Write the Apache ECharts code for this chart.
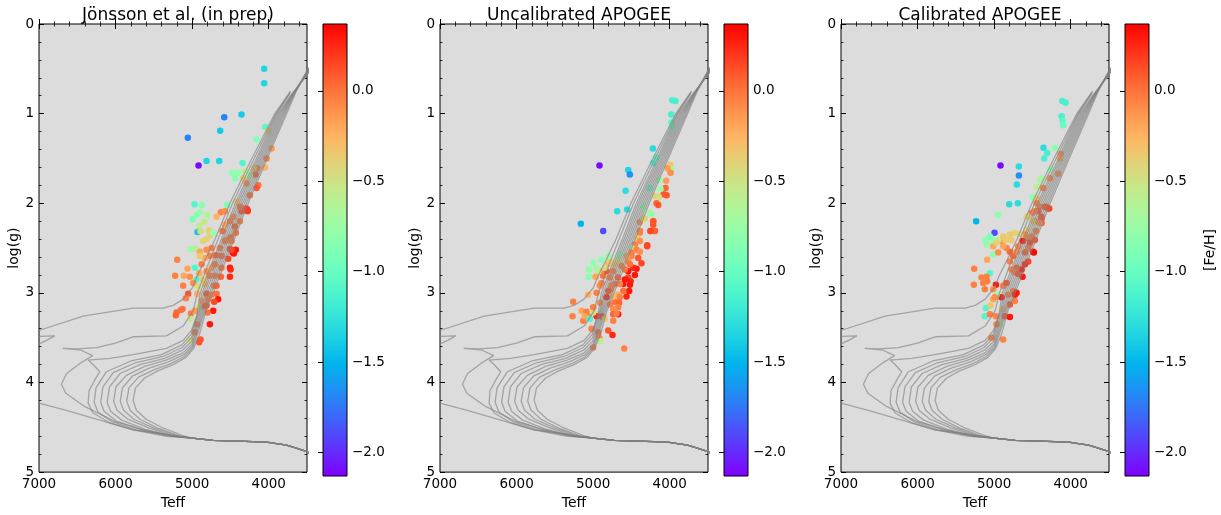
<!DOCTYPE html>
<html><head><meta charset="utf-8">
<script src="https://cdn.jsdelivr.net/npm/echarts@6/dist/echarts.min.js"></script>
<style>html,body{margin:0;padding:0;background:#fff}#c{width:1221px;height:515px}</style>
</head><body><div id="c"></div>
<script>
const panelTitles = ['Jönsson et al. (in prep)', 'Uncalibrated APOGEE', 'Calibrated APOGEE'];
const xMajorTicks = [4000, 5000, 6000, 7000];
const xMinorTicks = [3600, 3800, 4200, 4400, 4600, 4800, 5200, 5400, 5600, 5800, 6200, 6400, 6600, 6800];
const cbMajorTicks = [-2.0, -1.5, -1.0, -0.5, 0.0];
const cbMinorTicks = [-2.1, -1.9, -1.8, -1.7, -1.6, -1.4, -1.3, -1.2, -1.1, -0.9, -0.8, -0.7, -0.6, -0.4, -0.3, -0.2, -0.1, 0.1, 0.2, 0.3];
const fehMin = -2.13, fehMax = 0.37;

// [Teff, logg, [Fe/H]]
const jonssonStars = [
[4059,0.50,-1.35],[4059,0.66,-1.35],[4581,1.04,-1.70],[4355,1.01,-1.40],[4634,1.19,-1.40],[5056,1.27,-1.70],[4046,1.15,-1.05],[4159,1.29,-0.85],[4917,1.58,-2.10],[4812,1.53,-1.35],[4647,1.53,-1.35],[4342,1.55,-1.10],[4481,1.66,-0.80],[4398,1.66,-0.80],[4311,1.64,-0.60],[4438,1.72,-0.85],[4333,1.72,-0.35],[4542,2.02,-0.90],[4006,1.19,-0.35],[3963,1.39,-0.15],[4028,1.50,-0.05],[4150,1.61,-0.05],[4050,1.60,-0.25],[4172,1.68,0.05],[4137,1.80,0.00],[4159,1.83,0.10],[4246,1.69,-0.70],[4194,1.61,-0.35],[4289,1.78,-0.10],[4246,1.91,0.00],[4355,2.06,-0.05],[4281,2.07,0.10],[4276,2.09,0.15],[4420,1.98,-0.35],
[4969,2.01,-1.10],[4873,2.02,-0.85],[4943,2.13,-0.85],[4995,2.18,-0.90],[4899,2.10,-0.80],[4803,2.13,-0.65],[4908,2.25,-0.60],[4838,2.21,-0.55],[4930,2.32,-1.40],[4890,2.31,-0.45],[4781,2.30,-0.40],[4768,2.36,-0.40],[4856,2.42,-0.40],[4812,2.40,-0.40],[4725,2.33,-0.75],[4625,2.10,-0.05],[4681,2.15,-0.25],[5021,2.51,-0.75],[4951,2.51,-0.60],[4899,2.54,-0.20],[4812,2.52,-0.10],[4747,2.50,-0.05],[4638,2.50,-0.05],[4507,2.51,0.10],[4472,2.55,0.30],[4429,2.52,0.30],[4455,2.56,0.30],[4529,2.62,0.15],[4616,2.59,0.00],[4690,2.58,0.05],[4768,2.59,-0.05],[4834,2.61,-0.20],[4899,2.59,-0.35],[5195,2.63,-0.05],[5060,2.73,-0.20],[5222,2.81,-0.05],[5108,2.81,-0.20],[5030,2.82,-0.10],[4965,2.72,-1.10],[4943,2.85,-1.10],[5117,2.92,-0.05],[4986,2.89,-0.10],[4908,2.78,-0.20],[4877,2.68,-0.05],[4812,2.76,-0.10],[4747,2.72,-0.20],[4703,2.68,-0.05],[4616,2.72,0.00],[4507,2.72,0.30],[4498,2.74,0.25],[4625,2.82,0.05],[4507,2.82,0.25],[4703,2.81,-0.05],[4777,2.81,-0.05],[4856,2.85,-0.35],[4921,2.93,-0.45],[4834,2.90,-0.30],[4716,2.92,-0.05],[4681,2.92,0.05],[4812,3.01,0.10],[4747,3.02,-0.05],[4681,3.01,0.00],[5052,3.01,0.10],[5082,3.06,-0.05],[4934,3.01,-0.25],[4877,3.09,-0.20],[4908,3.16,-0.45],[4790,3.07,-0.05],[4660,3.07,0.30],[4712,3.10,0.15],[5204,3.22,0.05],[5213,3.25,0.05],[5148,3.19,0.00],[5126,3.18,0.00],[5017,3.23,-0.05],[4965,3.20,-0.15],[4812,3.14,0.10],[4834,3.15,0.05],[4725,3.20,0.30],[4799,3.22,0.00],[5021,3.29,-0.55],[4934,3.35,-0.05],[4768,3.35,0.30],[4965,3.44,-0.05],[5021,3.53,-0.45],[4908,3.55,0.10],[4890,3.52,0.10],[4551,2.41,-0.10],[4603,2.31,0.00],[4572,2.24,-0.20],[4507,2.20,-0.05],[4463,2.15,-0.10],[4429,2.33,0.00],[4498,2.38,0.00],[4485,2.42,-0.05],[4442,2.26,0.05],[4376,2.20,-0.05],[4355,2.09,0.10],[4289,2.06,0.15],[4276,2.08,0.20],[4376,2.04,0.00],[4572,2.09,-0.10],[4485,2.52,0.15],[4572,2.42,-0.05]
];
const uncalStars = [
[3967,0.85,-1.15],[3924,0.86,-1.15],[3980,1.01,-1.15],[3980,1.10,-1.05],[3967,1.15,-0.95],[4220,1.39,-1.30],[4176,1.49,-1.10],[4216,1.55,-1.15],[4917,1.58,-2.10],[4542,1.63,-1.35],[4521,1.68,-1.65],[4577,1.86,-1.30],[4686,2.09,-1.30],[4556,2.07,-1.30],[5161,2.23,-1.50],[4869,2.31,-1.90],[3993,1.57,-0.35],[3972,1.62,-0.70],[4028,1.61,-0.15],[3989,1.66,-0.10],[4046,1.75,-0.15],[4054,1.83,0.05],[4080,1.90,0.10],[4041,1.91,0.10],[4120,1.84,-0.75],[4194,1.92,-0.40],[4142,1.93,-0.45],[4172,2.00,0.05],[4150,2.02,0.10],[4137,1.74,-0.80],[4259,1.83,-1.00],[4346,2.04,-0.80],[4238,2.12,-0.80],[4325,2.17,-0.40],[4390,2.21,-0.10],[4216,2.20,0.05],[4216,2.24,0.10],[4194,2.31,0.15],[4251,2.31,0.15],[4294,2.48,0.15],[4390,2.33,-0.05],
[4259,2.11,-0.75],[4346,2.17,-0.40],[4215,2.20,0.10],[4206,2.31,0.05],[4250,2.31,0.15],[4389,2.31,-0.05],[4420,2.39,-0.35],[4389,2.42,-0.10],[4294,2.47,0.15],[4455,2.46,-0.05],[4498,2.50,-0.60],[4433,2.52,-0.05],[4389,2.54,-0.10],[4411,2.61,0.10],[4498,2.59,-0.05],[4542,2.65,-0.10],[4433,2.73,0.30],[4368,2.67,0.15],[4476,2.72,0.25],[4520,2.68,0.00],[4542,2.76,0.30],[4585,2.74,0.00],[4629,2.70,-0.05],[4542,2.83,0.15],[4511,2.87,0.25],[4455,2.80,0.30],[4585,2.85,0.30],[4607,2.90,0.30],[4520,2.91,0.30],[4673,2.83,0.05],[4651,2.90,-0.05],[4716,2.90,0.00],[4529,2.98,0.30],[4564,3.04,0.25],[4607,2.98,0.00],[4673,3.02,-0.20],[4651,3.05,-0.05],[4716,3.10,0.00],[4660,3.11,0.05],[4673,3.16,-0.05],[4738,3.04,-0.30],[4768,2.96,-0.05],[4803,2.98,0.10],[4825,3.05,0.25],[4738,3.18,-0.10],[4781,3.13,-0.05],[4673,3.24,0.30],[4738,3.24,0.05],[4695,3.23,-0.05],[4760,2.92,-0.05],[4912,2.92,-0.10],[4890,2.89,-0.05],[4869,2.81,0.00],[4912,2.76,-0.10],[4781,2.83,-0.05],[4825,2.76,0.10],[4738,2.76,-0.05],[4716,2.68,-0.35],[4803,2.68,-0.25],[4781,2.65,-0.35],[4673,2.63,-0.45],[4564,2.59,-0.20],[4498,2.55,-0.05],[4651,2.57,-0.85],[4847,2.72,-0.45],[4999,2.66,-0.80],[4890,2.63,-0.85],[5052,2.74,-0.80],[4956,2.72,-0.75],[4934,2.76,-0.60],[5056,2.82,-0.85],[4969,2.82,-0.20],[4803,2.59,-0.75],[5261,3.10,-0.05],[5269,3.26,-0.05],[5152,3.20,-0.20],[5087,3.21,-0.05],[5130,3.31,-0.05],[5065,3.26,-0.05],[5108,3.26,-0.20],[5065,3.02,-0.25],[5043,3.29,-1.10],[4956,3.26,0.25],[4890,3.26,0.20],[4999,3.22,-0.45],[4912,3.11,-0.10],[4956,3.00,-0.05],[5021,3.40,-0.05],[4934,3.44,0.00],[4921,3.50,-0.05],[4904,3.54,-0.60],[4999,3.61,-0.05],[4803,3.42,0.10],[4747,3.47,0.25],[4847,3.29,-0.35],[4738,3.31,-0.05],[4594,3.62,-0.05],[4999,3.16,-0.05]
];
const calStars = [
[4111,0.86,-1.15],[4067,0.88,-1.15],[4119,1.03,-1.15],[4106,1.08,-1.05],[4098,1.13,-1.00],[4355,1.38,-1.30],[4307,1.44,-1.15],[4346,1.50,-1.15],[4207,1.38,-0.85],[4917,1.58,-2.10],[4677,1.59,-1.30],[4677,1.69,-1.65],[4703,1.79,-1.30],[4803,2.01,-1.30],[4690,2.00,-1.30],[5235,2.20,-1.50],[4995,2.33,-1.90],[4947,2.13,-0.80],[4272,1.62,-0.75],[4381,1.72,-0.80],[4403,1.74,-0.65],[4433,1.82,-0.60],[4498,1.93,-0.80],[4437,1.95,-0.35],[4132,1.45,-0.10],[4141,1.50,-0.20],[4163,1.67,-0.10],[4272,1.72,-0.10],[4359,1.83,-0.05],[4294,2.06,0.15],[4316,2.04,0.00],[4403,2.04,-0.05],[4577,2.15,-0.40],[4511,2.11,-0.05],[4381,2.17,0.05],[4468,2.20,-0.05],[4490,2.54,0.35],[4381,2.22,0.10],[4425,2.09,0.10],
[4555,2.15,-0.40],[4468,2.09,-0.05],[4490,2.20,-0.35],[4402,2.22,-0.10],[4381,2.15,0.10],[4455,2.31,-0.05],[4511,2.37,-0.05],[4468,2.41,0.10],[4555,2.39,-0.05],[4577,2.30,-0.40],[4598,2.35,-0.10],[4629,2.42,0.30],[4533,2.44,0.15],[4481,2.55,0.35],[4555,2.50,-0.05],[4598,2.55,0.05],[4555,2.65,0.15],[4598,2.68,0.25],[4642,2.74,0.30],[4629,2.82,0.30],[4707,2.72,0.05],[4729,2.77,-0.05],[4686,2.79,0.10],[4773,2.74,-0.05],[4794,2.65,-0.05],[4751,2.59,0.05],[4707,2.54,-0.10],[4686,2.48,-0.05],[4794,2.54,0.05],[4838,2.50,-0.05],[4882,2.48,-0.20],[4903,2.42,-0.10],[4860,2.41,-0.25],[4794,2.35,-0.35],[4773,2.41,-0.35],[4729,2.33,-0.40],[4664,2.35,-0.40],[4947,2.41,-0.55],[5012,2.41,-0.80],[5056,2.37,-0.90],[5108,2.41,-0.85],[5099,2.46,-0.80],[5012,2.48,-0.20],[4969,2.44,-0.40],[4882,2.37,-0.35],[4838,2.41,-0.35],[5012,2.57,-0.85],[4947,2.55,-0.10],[5091,2.63,-0.20],[5261,2.73,-0.05],[4977,2.91,0.30],[5056,2.78,-1.10],[5165,2.83,-0.05],[5099,2.82,-0.05],[5143,2.89,-0.05],[5091,2.87,-0.05],[5265,2.91,-0.05],[5121,2.96,-0.05],[5012,2.96,-0.10],[4882,2.92,-0.05],[4838,2.89,0.10],[4903,3.05,0.30],[4969,3.02,-0.75],[5012,3.07,-0.20],[4991,3.05,-0.10],[4816,3.02,-0.05],[4751,2.98,-0.05],[4729,3.02,0.30],[4707,3.00,0.30],[4794,3.13,0.10],[4729,3.09,-0.05],[4882,3.18,-0.35],[5108,3.17,-1.10],[5121,3.26,-1.10],[5047,3.14,-0.35],[5056,3.24,-0.05],[4977,3.26,-0.05],[4860,3.26,0.10],[4794,3.27,0.30],[5034,3.50,-0.05],[4882,3.52,-0.05],[4925,3.35,-0.70],[4969,3.35,-0.05],[4446,2.00,-0.05],[4337,2.04,0.10],[4280,2.06,0.15]
];

// isochrones [Teff, logg]
const msLower = [[3300,4.86],[3506,4.77],[3767,4.70],[4028,4.665],[4400,4.655],[4726,4.645],[5000,4.62]];
const isoY1 = [[5335,4.60],[5771,4.53],[6207,4.42],[6643,4.31],[7000,4.23],[7400,4.13],[7400,3.44],[7000,3.42],[6425,3.26],[5771,3.17],[5379,3.17],[5248,3.14],[5118,3.07],[4995,2.94],[4930,2.80],[4840,2.65],[4700,2.40],[4507,2.00],[4220,1.50],[3920,1.00],[3715,0.75]];
const isoY2 = [[7400,3.50],[7000,3.485],[6795,3.48],[6900,3.53],[7000,3.57],[7400,3.62]];
const isoY3 = [[5335,4.59],[5600,4.54],[6020,4.43],[6400,4.27],[6650,4.12],[6707,4.02],[6640,3.90],[6470,3.79],[6300,3.70],[6450,3.64],[6690,3.62],[6500,3.625],[6250,3.61],[6000,3.56],[5771,3.49],[5335,3.48],[5118,3.37],[4987,3.20],[4930,3.00],[4800,2.70],[4660,2.40],[4472,2.00],[4190,1.50],[3905,1.00],[3718,0.76]];
const isoK0 = [[5100,4.60],[5400,4.50],[5600,4.41],[5728,4.31],[5771,4.20],[5740,4.06],[5620,3.95],[5450,3.87],[5250,3.80],[5080,3.72],[4980,3.62],[4900,3.45],[4820,3.20],[4726,3.00],[4590,2.70],[4450,2.40],[4268,2.00],[4020,1.50],[3767,1.00],[3640,0.75],[3500,0.52],[3300,0.28]];
const isoK1 = [[5150,4.60],[5450,4.51],[5680,4.41],[5810,4.31],[5855,4.21],[5825,4.06],[5700,3.94],[5500,3.86],[5280,3.79],[5100,3.71],[4990,3.61],[4915,3.42],[4838,3.20],[4750,3.00],[4614,2.70],[4474,2.40],[4292,2.00],[4040,1.50],[3785,1.00],[3655,0.76],[3500,0.53],[3300,0.29]];
const isoK2 = [[5180,4.60],[5500,4.51],[5760,4.41],[5895,4.31],[5940,4.21],[5910,4.06],[5780,3.93],[5560,3.84],[5310,3.77],[5110,3.69],[4995,3.59],[4925,3.40],[4855,3.20],[4774,3.00],[4638,2.70],[4498,2.40],[4316,2.00],[4060,1.50],[3803,1.00],[3668,0.77],[3500,0.535],[3300,0.29]];
const isoK3 = [[5220,4.60],[5560,4.51],[5840,4.41],[5980,4.31],[6025,4.21],[5995,4.05],[5860,3.92],[5620,3.82],[5340,3.75],[5120,3.67],[5000,3.57],[4935,3.38],[4870,3.20],[4798,3.00],[4662,2.70],[4522,2.40],[4340,2.00],[4080,1.50],[3821,1.00],[3680,0.78],[3500,0.54],[3300,0.30]];
const isoK4 = [[5250,4.60],[5620,4.52],[5920,4.42],[6065,4.32],[6110,4.22],[6080,4.05],[5940,3.90],[5680,3.80],[5360,3.73],[5125,3.64],[5005,3.54],[4945,3.36],[4885,3.20],[4822,3.00],[4686,2.70],[4546,2.40],[4364,2.00],[4100,1.50],[3839,1.00],[3692,0.79],[3500,0.55],[3300,0.30]];
const isoK5 = [[5280,4.59],[5680,4.52],[5990,4.43],[6150,4.32],[6195,4.22],[6165,4.05],[6030,3.89],[5740,3.78],[5380,3.71],[5130,3.61],[5008,3.50],[4952,3.33],[4900,3.20],[4846,3.00],[4710,2.70],[4570,2.40],[4388,2.00],[4120,1.50],[3857,1.00],[3704,0.80],[3500,0.56],[3300,0.31]];
const isoK6 = [[5300,4.59],[5730,4.53],[6040,4.44],[6230,4.33],[6280,4.22],[6255,4.06],[6120,3.88],[5800,3.76],[5400,3.69],[5135,3.58],[5010,3.46],[4958,3.30],[4912,3.20],[4870,3.00],[4734,2.70],[4594,2.40],[4412,2.00],[4140,1.50],[3875,1.00],[3716,0.80],[3500,0.57],[3300,0.32]];
const isoK7 = [[5335,4.58],[5771,4.53],[6076,4.45],[6294,4.34],[6359,4.23],[6346,4.09],[6250,3.94],[6207,3.88],[6294,3.80],[6359,3.75],[6076,3.73],[5771,3.69],[5335,3.62],[5118,3.53],[5009,3.42],[4943,3.27],[4920,3.15],[4894,3.00],[4758,2.70],[4618,2.40],[4436,2.00],[4160,1.50],[3893,1.00],[3728,0.78]];

const isochrones = [
  msLower.concat(isoY1), isoY2, msLower.concat(isoY3),
  msLower.concat(isoK0), msLower.concat(isoK1), msLower.concat(isoK2), msLower.concat(isoK3),
  msLower.concat(isoK4), msLower.concat(isoK5), msLower.concat(isoK6), msLower.concat(isoK7)
];
const panelStars = [jonssonStars, uncalStars, calStars];

function rainbow(t) {
  t = Math.max(0, Math.min(1, t));
  const r = Math.min(1, Math.abs(2 * t - 0.5));
  const g = Math.sin(Math.PI * t);
  const b = Math.cos(Math.PI * t / 2);
  return 'rgb(' + Math.round(r * 255) + ',' + Math.round(g * 255) + ',' + Math.round(b * 255) + ')';
}
const gradStops = [];
for (let i = 0; i <= 40; i++) gradStops.push({offset: i / 40, color: rainbow(i / 40)});

const FONT = 'DejaVu Sans';
const chart = echarts.init(document.getElementById('c'), null, {renderer: 'canvas'});
const grids = [], xAxes = [], yAxes = [], series = [], titles = [];
for (let p = 0; p < 3; p++) {
  const L = 39 + 401 * p;
  grids.push({left: L, top: 24, width: 268, height: 452, show: true, backgroundColor: '#dcdcdc', borderColor: '#000', borderWidth: 1, containLabel: false});
  grids.push({left: L + 284, top: 24, width: 24, height: 452, show: false});
  titles.push({text: panelTitles[p], left: L + 134, top: 2, textAlign: 'center', textStyle: {fontFamily: FONT, fontSize: 17, fontWeight: 'normal', color: '#000'}});
  const gi = 2 * p, xb = 5 * p, yb = 4 * p;
  const tickMaj = {show: true, inside: true, length: 5, lineStyle: {color: '#000', width: 1}};
  const tickMin = {show: true, inside: true, length: 2.5, lineStyle: {color: '#000', width: 0.8}};
  const xCommon = {type: 'value', gridIndex: gi, min: 3500, max: 7000, inverse: true, splitLine: {show: false}, axisLine: {show: false}};
  xAxes.push(Object.assign({}, xCommon, {position: 'bottom',
    axisTick: Object.assign({customValues: xMajorTicks}, tickMaj),
    axisLabel: {customValues: xMajorTicks, color: '#000', fontFamily: FONT, fontSize: 13.5, margin: 5, formatter: v => String(Math.round(v))},
    name: 'Teff', nameLocation: 'middle', nameGap: 20, nameTextStyle: {fontFamily: FONT, fontSize: 14, color: '#000'}}));
  xAxes.push(Object.assign({}, xCommon, {position: 'bottom', axisTick: Object.assign({customValues: xMinorTicks}, tickMin), axisLabel: {show: false}}));
  xAxes.push(Object.assign({}, xCommon, {position: 'top', axisTick: Object.assign({customValues: xMajorTicks}, tickMaj), axisLabel: {show: false}}));
  xAxes.push(Object.assign({}, xCommon, {position: 'top', axisTick: Object.assign({customValues: xMinorTicks}, tickMin), axisLabel: {show: false}}));
  xAxes.push({type: 'value', gridIndex: gi + 1, min: 0, max: 1, show: false});
  const yCommon = {type: 'value', gridIndex: gi, min: 0, max: 5, interval: 1, inverse: true, splitLine: {show: false}, axisLine: {show: false},
    axisTick: tickMaj, minorTick: {show: true, splitNumber: 5, length: 2.5, lineStyle: {color: '#000', width: 0.8}}};
  yAxes.push(Object.assign({}, yCommon, {position: 'left',
    axisLabel: {color: '#000', fontFamily: FONT, fontSize: 13.5, margin: 5},
    name: 'log(g)', nameLocation: 'middle', nameGap: 18, nameRotate: 90, nameTextStyle: {fontFamily: FONT, fontSize: 14, color: '#000'}}));
  yAxes.push(Object.assign({}, yCommon, {position: 'right', axisLabel: {show: false}}));
  const cbCommon = {type: 'value', gridIndex: gi + 1, min: fehMin, max: fehMax, position: 'right', splitLine: {show: false}, axisLine: {show: false}};
  const cbMajor = Object.assign({}, cbCommon, {
    axisTick: Object.assign({customValues: cbMajorTicks}, tickMaj),
    axisLabel: {customValues: cbMajorTicks, color: '#000', fontFamily: FONT, fontSize: 13.5, margin: 5,
      formatter: v => (v < -1e-9 ? '\u2212' + Math.abs(v).toFixed(1) : Math.abs(v).toFixed(1))}});
  if (p === 2) Object.assign(cbMajor, {name: '[Fe/H]', nameLocation: 'middle', nameGap: 54, nameRotate: 90, nameTextStyle: {fontFamily: FONT, fontSize: 14, color: '#000'}});
  yAxes.push(cbMajor);
  yAxes.push(Object.assign({}, cbCommon, {axisTick: Object.assign({customValues: cbMinorTicks}, tickMin), axisLabel: {show: false}}));

  series.push({type: 'scatter', xAxisIndex: xb, yAxisIndex: yb, data: panelStars[p], symbolSize: 6.5, z: 2, silent: true,
    itemStyle: {opacity: 1, color: params => rainbow((params.data[2] - fehMin) / (fehMax - fehMin))}});
  isochrones.forEach(iso => series.push({type: 'line', xAxisIndex: xb, yAxisIndex: yb, data: iso, showSymbol: false, symbol: 'none', clip: true, z: 3, silent: true,
    lineStyle: {color: 'rgba(128,128,128,0.62)', width: 1.3}}));
  series.push({type: 'custom', xAxisIndex: xb + 4, yAxisIndex: yb + 2, data: [[0, fehMin, 1, fehMax]], silent: true, clip: false,
    renderItem: (params, api) => {
      const a = api.coord([api.value(0), api.value(3)]);
      const b = api.coord([api.value(2), api.value(1)]);
      return {type: 'rect', shape: {x: a[0], y: a[1], width: b[0] - a[0], height: b[1] - a[1]},
        style: {fill: new echarts.graphic.LinearGradient(0, 1, 0, 0, gradStops), stroke: '#000', lineWidth: 1}};
    }});
}
chart.setOption({animation: false, backgroundColor: '#fff', textStyle: {fontFamily: FONT}, title: titles, grid: grids, xAxis: xAxes, yAxis: yAxes, series: series});
</script></body></html>
